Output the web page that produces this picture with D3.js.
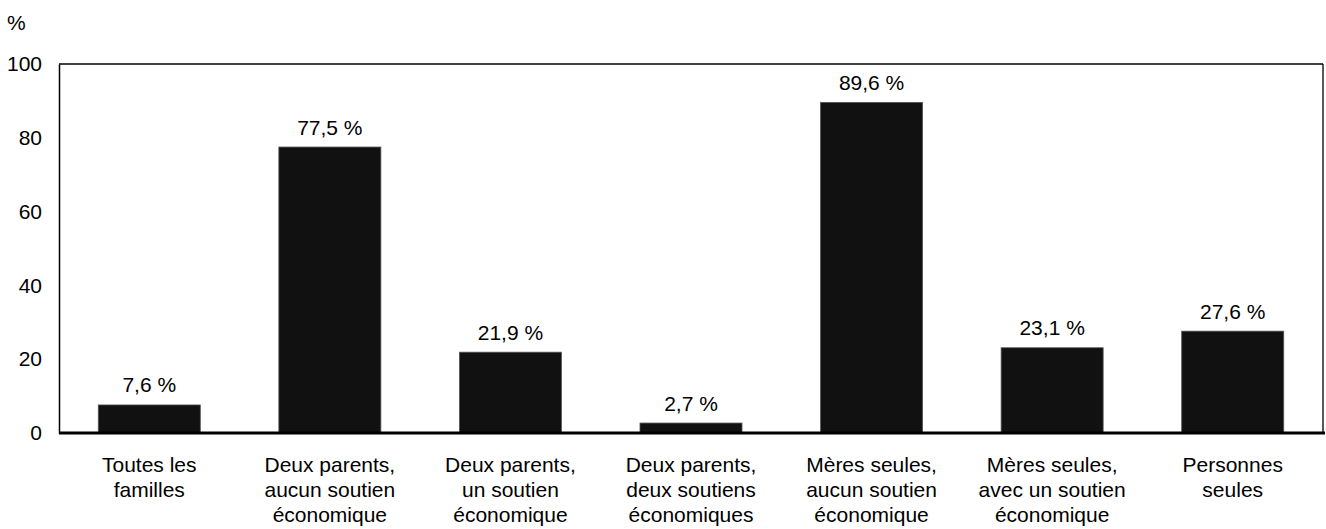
<!DOCTYPE html>
<html><head><meta charset="utf-8">
<script src="https://cdn.jsdelivr.net/npm/d3@7/dist/d3.min.js"></script>
<style>body{margin:0;background:#fff}text{font-family:"Liberation Sans",Arial,sans-serif;fill:#000}</style>
</head><body><svg id="c" width="1326" height="529"></svg>
<script>
const categories = [
  ["Toutes les","familles"],
  ["Deux parents,","aucun soutien","économique"],
  ["Deux parents,","un soutien","économique"],
  ["Deux parents,","deux soutiens","économiques"],
  ["Mères seules,","aucun soutien","économique"],
  ["Mères seules,","avec un soutien","économique"],
  ["Personnes","seules"]
];
const values = [7.6, 77.5, 21.9, 2.7, 89.6, 23.1, 27.6];
const valueLabels = ["7,6 %","77,5 %","21,9 %","2,7 %","89,6 %","23,1 %","27,6 %"];
const yTicks = [0,20,40,60,80,100];

const FS = 21;
const svg = d3.select("#c");
const L=59, R=1323, T=64, B=433;
const x = d3.scaleBand().domain(d3.range(categories.length)).range([L,R]).paddingInner(0.435).paddingOuter(0.2175);
const y = d3.scaleLinear().domain([0,100]).range([B,T]);

// frame
svg.append("line").attr("x1",L).attr("x2",R).attr("y1",T).attr("y2",T).attr("stroke","#000").attr("stroke-width",1.3);
svg.append("line").attr("x1",R).attr("x2",R).attr("y1",T).attr("y2",B).attr("stroke","#000").attr("stroke-width",1.3);

svg.selectAll("rect.bar").data(values).join("rect").attr("class","bar")
  .attr("x",(d,i)=>x(i)).attr("width",x.bandwidth())
  .attr("y",d=>y(d)).attr("height",d=>B-y(d))
  .attr("fill","#111").attr("stroke","#555").attr("stroke-width",0.8);

svg.selectAll("text.val").data(values).join("text").attr("class","val")
  .attr("x",(d,i)=>x(i)+x.bandwidth()/2).attr("y",d=>y(d)-12.5)
  .attr("text-anchor","middle").attr("font-size",FS).text((d,i)=>valueLabels[i]);

// y axis
const ya = svg.append("g").attr("transform",`translate(${L},0)`).call(d3.axisLeft(y).tickValues(yTicks).tickSize(0).tickPadding(17));
ya.select(".domain").attr("stroke","#000").attr("stroke-width",1.5);
ya.selectAll("text").attr("font-size",FS).attr("font-family","Liberation Sans, Arial, sans-serif").attr("fill","#000");

// x axis line
svg.append("line").attr("x1",L).attr("x2",R+2).attr("y1",B).attr("y2",B).attr("stroke","#000").attr("stroke-width",3);

// category labels
const cg = svg.selectAll("text.cat").data(categories).join("text").attr("class","cat")
  .attr("text-anchor","middle").attr("font-size",FS);
cg.each(function(lines,i){
  const t=d3.select(this);
  lines.forEach((ln,j)=>t.append("tspan").attr("x",x(i)+x.bandwidth()/2).attr("y",B+38.5+j*25).text(ln));
});

svg.append("text").attr("x",7).attr("y",30).attr("font-size",FS).text("%");
</script></body></html>
